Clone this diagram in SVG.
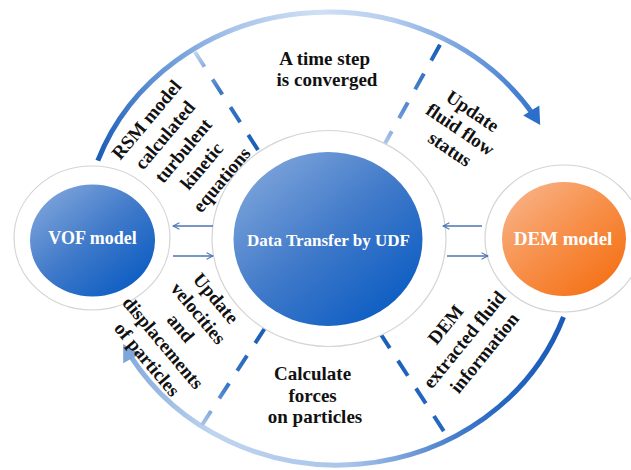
<svg xmlns="http://www.w3.org/2000/svg" width="631" height="470" viewBox="0 0 631 470">
  <defs>
    <style>
      .ring { fill: #ffffff; stroke: #d4d4d4; stroke-width: 1.2; }
      .node-text { font-weight: bold; fill: #ffffff; text-anchor: middle; }
      .label { font-weight: bold; font-size: 19px; fill: #111111; text-anchor: middle; }
      .link { stroke: #4a74b4; stroke-width: 1.3; fill: none; marker-end: url(#open-head); }
      .cycle { fill: none; stroke-width: 5; }
      .dash { stroke-width: 4; stroke-dasharray: 18 15; fill: none; }
    </style>
    <linearGradient id="blue-fill" x1="0.12" y1="0.08" x2="0.88" y2="0.92">
      <stop offset="0" stop-color="#7ca3da"/>
      <stop offset="0.5" stop-color="#3f79c9"/>
      <stop offset="1" stop-color="#0a5cc3"/>
    </linearGradient>
    <linearGradient id="orange-fill" x1="0.12" y1="0.08" x2="0.88" y2="0.92">
      <stop offset="0" stop-color="#f8b083"/>
      <stop offset="0.5" stop-color="#f78e47"/>
      <stop offset="1" stop-color="#f57116"/>
    </linearGradient>
    <linearGradient id="top-cycle" gradientUnits="userSpaceOnUse" x1="97" y1="160" x2="545" y2="120">
      <stop offset="0" stop-color="#1a5cb8"/>
      <stop offset="0.14" stop-color="#5f91d4"/>
      <stop offset="0.33" stop-color="#a9c5ea"/>
      <stop offset="0.52" stop-color="#cfe0f4"/>
      <stop offset="0.68" stop-color="#b5cdee"/>
      <stop offset="0.86" stop-color="#6c9bdc"/>
      <stop offset="1" stop-color="#2c6ecb"/>
    </linearGradient>
    <linearGradient id="bottom-cycle" gradientUnits="userSpaceOnUse" x1="563" y1="317" x2="118" y2="345">
      <stop offset="0" stop-color="#1a5cb8"/>
      <stop offset="0.15" stop-color="#2466c0"/>
      <stop offset="0.27" stop-color="#4a80cc"/>
      <stop offset="0.5" stop-color="#a9c5ea"/>
      <stop offset="0.8" stop-color="#bfd4ef"/>
      <stop offset="1" stop-color="#7ea6db"/>
    </linearGradient>
    <linearGradient id="dash-tl" gradientUnits="userSpaceOnUse" x1="258" y1="150" x2="195" y2="52">
      <stop offset="0" stop-color="#1a5db6"/>
      <stop offset="0.6" stop-color="#3d78c6"/>
      <stop offset="0.82" stop-color="#7fa6dc"/>
      <stop offset="1" stop-color="#c0d5ef"/>
    </linearGradient>
    <linearGradient id="dash-tr" gradientUnits="userSpaceOnUse" x1="383" y1="147" x2="441" y2="43">
      <stop offset="0" stop-color="#b5cdec"/>
      <stop offset="0.35" stop-color="#5a8fd2"/>
      <stop offset="1" stop-color="#1a5db6"/>
    </linearGradient>
    <linearGradient id="dash-bl" gradientUnits="userSpaceOnUse" x1="265" y1="328" x2="202" y2="425">
      <stop offset="0" stop-color="#1a5db6"/>
      <stop offset="0.6" stop-color="#3a77c7"/>
      <stop offset="1" stop-color="#a9c4e9"/>
    </linearGradient>
    <linearGradient id="dash-br" gradientUnits="userSpaceOnUse" x1="380" y1="333" x2="445" y2="433">
      <stop offset="0" stop-color="#1b5fb8"/>
      <stop offset="1" stop-color="#2668bf"/>
    </linearGradient>
    <marker id="open-head" viewBox="0 0 10 10" refX="9" refY="5" markerWidth="8" markerHeight="8" markerUnits="userSpaceOnUse" orient="auto">
      <path d="M1,1 L9,5 L1,9" fill="none" stroke="#4a74b4" stroke-width="1.3"/>
    </marker>
  </defs>

  <!-- outer cycle arcs with their heads -->
  <g id="cycle">
    <path class="cycle" stroke="url(#top-cycle)" d="M97.8,160.7 A245,226 0 0 1 533.5,114.9"/>
    <polygon fill="#2c6ecb" points="540.2,125 539.3,105.6 523.2,115.6"/>
    <path class="cycle" stroke="url(#bottom-cycle)" d="M563.5,317 A241,225 0 0 1 130.4,355.9"/>
    <polygon fill="#7ea6db" points="123.2,343.9 139.8,354.1 123.2,363.3"/>
  </g>

  <!-- sector dividers -->
  <g id="dividers">
    <line class="dash" stroke="url(#dash-tl)" x1="258" y1="150" x2="195" y2="52"/>
    <line class="dash" stroke="url(#dash-tr)" x1="383" y1="147" x2="441" y2="43"/>
    <line class="dash" stroke="url(#dash-bl)" x1="265" y1="328" x2="202" y2="425"/>
    <line class="dash" stroke="url(#dash-br)" x1="380" y1="333" x2="445" y2="433"/>
  </g>

  <g id="vof">
    <ellipse class="ring" cx="92" cy="238" rx="78" ry="72"/>
    <ellipse fill="url(#blue-fill)" cx="92.5" cy="240.5" rx="62.5" ry="56"/>
    <text class="node-text" font-family="Liberation Serif, Tinos, DejaVu Serif, serif" x="92.5" y="244" font-size="18">VOF model</text>
  </g>

  <g id="udf">
    <ellipse class="ring" cx="329" cy="238.5" rx="117" ry="108"/>
    <ellipse fill="url(#blue-fill)" cx="328" cy="239" rx="94.5" ry="87"/>
    <text class="node-text" font-family="Liberation Serif, Tinos, DejaVu Serif, serif" x="328.5" y="246" font-size="17">Data Transfer by UDF</text>
  </g>

  <g id="dem">
    <ellipse class="ring" cx="564" cy="238.5" rx="79" ry="73.5"/>
    <ellipse fill="url(#orange-fill)" cx="564" cy="239" rx="62" ry="57"/>
    <text class="node-text" font-family="Liberation Serif, Tinos, DejaVu Serif, serif" x="563" y="245" font-size="19">DEM model</text>
  </g>

  <!-- data exchange arrows -->
  <g id="connectors">
    <line class="link" x1="213" y1="226" x2="173" y2="226"/>
    <line class="link" x1="173" y1="256" x2="213" y2="256"/>
    <line class="link" x1="482" y1="226" x2="443" y2="226"/>
    <line class="link" x1="447" y1="256" x2="488" y2="256"/>
  </g>

  <!-- step labels -->
  <g id="labels" font-family="Liberation Serif, Tinos, DejaVu Serif, serif">
    <text class="label">
      <tspan x="327" y="65">A time step</tspan>
      <tspan x="327" y="86">is converged</tspan>
    </text>
    <text class="label" transform="translate(462,131) rotate(34)">
      <tspan x="0" y="-16">Update</tspan>
      <tspan x="0" y="6">fluid flow</tspan>
      <tspan x="0" y="28">status</tspan>
    </text>
    <text class="label" transform="translate(185,149) rotate(-50)">
      <tspan x="0" y="-42">RSM model</tspan>
      <tspan x="0" y="-18">calculated</tspan>
      <tspan x="0" y="6">turbulent</tspan>
      <tspan x="0" y="30">kinetic</tspan>
      <tspan x="0" y="54">equations</tspan>
    </text>
    <text class="label" transform="translate(182,330) rotate(50)">
      <tspan x="0" y="-40">Update</tspan>
      <tspan x="0" y="-17">velocities</tspan>
      <tspan x="0" y="6">and</tspan>
      <tspan x="0" y="29">displacements</tspan>
      <tspan x="0" y="52">of particles</tspan>
    </text>
    <text class="label">
      <tspan x="315" y="380">Calculate</tspan>
      <tspan x="315" y="402">forces</tspan>
      <tspan x="315" y="423">on particles</tspan>
    </text>
    <text class="label" transform="translate(466,338) rotate(-51)">
      <tspan x="0" y="-18">DEM</tspan>
      <tspan x="0" y="6">extracted fluid</tspan>
      <tspan x="0" y="30">information</tspan>
    </text>
  </g>
</svg>
